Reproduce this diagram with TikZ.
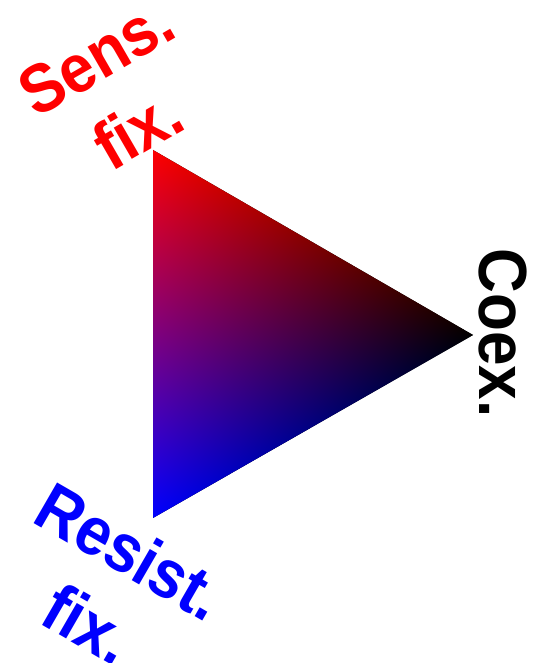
\documentclass[tikz,border=0pt]{standalone}
\usepackage{fontspec}
\setsansfont{Liberation Sans}
\usetikzlibrary{positioning}

\tikzset{
  corner label/.style={font=\sffamily\bfseries\fontsize{62}{76}\selectfont, align=center, inner sep=0pt},
}

\begin{document}
\begin{tikzpicture}[x=1pt,y=1pt]
  \useasboundingbox (0,0) rectangle (539,663);

  % corners of the triangle
  \coordinate (T) at (153,513);
  \coordinate (B) at (153,145);
  \coordinate (R) at (473,328);

  \begin{scope}
    \clip (T) -- (B) -- (R) -- cycle;
    % red share, black on the edge B--R
    \begin{scope}[transform canvas={shift={(B)},rotate=29.76}]
      \shade[bottom color=black, top color=red] (-20,0) rectangle (390,319.4);
    \end{scope}
    % blue share, black on the edge T--R
    \begin{scope}[transform canvas={shift={(T)},rotate=-30.03}]
      \shade[blend mode=screen, top color=black, bottom color=blue] (-20,-318.7) rectangle (390,0);
    \end{scope}
  \end{scope}

  % labels at the corners
  \node[corner label, red, rotate=30, yscale=1.1] (sens) at (117,570) {Sens.\\fix.};
  \node[corner label, rotate=-90, yscale=1.1] (coex) at (503,330) {Coex.};
  \node[corner label, blue, rotate=-30, yscale=1.1] (resist) at (110,76) {Resist.\\fix.};
\end{tikzpicture}
\end{document}
